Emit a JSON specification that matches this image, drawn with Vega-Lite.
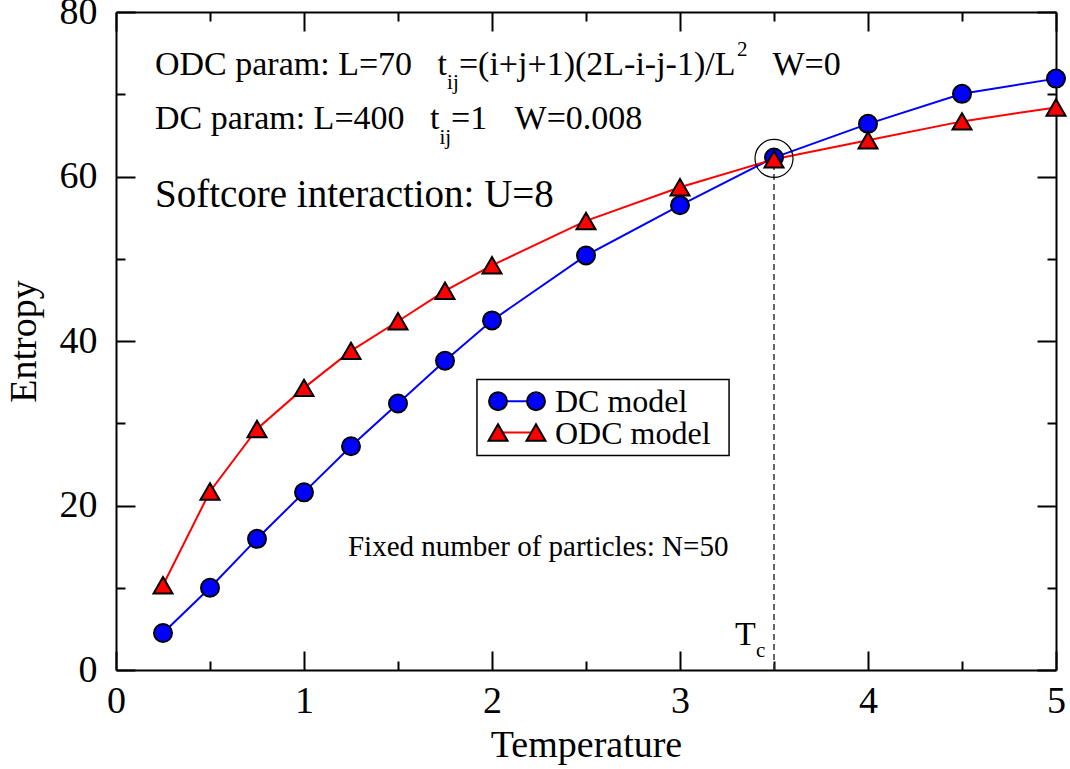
{
  "$schema": "https://vega.github.io/schema/vega-lite/v6.json",
  "width": 940,
  "height": 658,
  "autosize": {"type": "none"},
  "padding": {"left": 116, "top": 12, "right": 14, "bottom": 99},
  "background": "white",
  "config": {
    "view": {"stroke": null},
    "font": "Liberation Serif",
    "axis": {
      "grid": false,
      "labelFont": "Liberation Serif",
      "titleFont": "Liberation Serif",
      "labelColor": "black",
      "titleColor": "black",
      "tickColor": "black",
      "domainColor": "black",
      "tickWidth": 2,
      "domainWidth": 2,
      "titleFontWeight": "normal",
      "labelFontSize": 38,
      "titleFontSize": 38,
      "labelFlush": false,
      "labelOverlap": false,
      "zindex": 1
    },
    "text": {"font": "Liberation Serif", "color": "black"}
  },
  "datasets": {
    "series": [
      {"model": "DC", "T": 0.25, "S": 4.5},
      {"model": "DC", "T": 0.5, "S": 10.0},
      {"model": "DC", "T": 0.75, "S": 15.95},
      {"model": "DC", "T": 1.0, "S": 21.6},
      {"model": "DC", "T": 1.25, "S": 27.2},
      {"model": "DC", "T": 1.5, "S": 32.4},
      {"model": "DC", "T": 1.75, "S": 37.6},
      {"model": "DC", "T": 2.0, "S": 42.5},
      {"model": "DC", "T": 2.5, "S": 50.4},
      {"model": "DC", "T": 3.0, "S": 56.5},
      {"model": "DC", "T": 3.5, "S": 62.3},
      {"model": "DC", "T": 4.0, "S": 66.4},
      {"model": "DC", "T": 4.5, "S": 70.05},
      {"model": "DC", "T": 5.0, "S": 71.9},
      {"model": "ODC", "T": 0.25, "S": 10.3},
      {"model": "ODC", "T": 0.5, "S": 21.7},
      {"model": "ODC", "T": 0.75, "S": 29.3},
      {"model": "ODC", "T": 1.0, "S": 34.3},
      {"model": "ODC", "T": 1.25, "S": 38.8},
      {"model": "ODC", "T": 1.5, "S": 42.4},
      {"model": "ODC", "T": 1.75, "S": 46.1},
      {"model": "ODC", "T": 2.0, "S": 49.2},
      {"model": "ODC", "T": 2.5, "S": 54.6},
      {"model": "ODC", "T": 3.0, "S": 58.7},
      {"model": "ODC", "T": 3.5, "S": 62.1},
      {"model": "ODC", "T": 4.0, "S": 64.4},
      {"model": "ODC", "T": 4.5, "S": 66.7},
      {"model": "ODC", "T": 5.0, "S": 68.4}
    ],
    "critical": [{"T": 3.5, "S": 62.2, "S0": 0}],
    "legendBox": [{"T": 1.92, "T2": 3.261, "S": 35.32, "S2": 26.08}],
    "legendKeys": [
      {"model": "DC", "T": 2.032, "T2": 2.234, "S": 32.68},
      {"model": "ODC", "T": 2.032, "T2": 2.234, "S": 28.88}
    ],
    "legendMarks": [
      {"model": "DC", "T": 2.032, "S": 32.68},
      {"model": "DC", "T": 2.234, "S": 32.68},
      {"model": "ODC", "T": 2.032, "S": 28.88},
      {"model": "ODC", "T": 2.234, "S": 28.88}
    ],
    "legendText": [
      {"T": 2.335, "S": 31.34, "label": "DC model"},
      {"T": 2.335, "S": 27.42, "label": "ODC model"}
    ],
    "params": [
      {"T": 0.2074, "S": 72.28, "label": "ODC param: L=70"},
      {"T": 1.71, "S": 72.28, "label": "t"},
      {"T": 1.824, "S": 72.28, "label": "=(i+j+1)(2L-i-j-1)/L"},
      {"T": 3.492, "S": 72.28, "label": "W=0"},
      {"T": 0.2074, "S": 65.72, "label": "DC param: L=400"},
      {"T": 1.67, "S": 65.72, "label": "t"},
      {"T": 1.782, "S": 65.72, "label": "=1"},
      {"T": 2.12, "S": 65.72, "label": "W=0.008"},
      {"T": 3.2926, "S": 2.98, "label": "T"}
    ],
    "scripts": [
      {"T": 1.761, "S": 70.6, "label": "ij"},
      {"T": 1.7207, "S": 64.0, "label": "ij"},
      {"T": 3.303, "S": 74.6, "label": "2"},
      {"T": 3.404, "S": 1.52, "label": "c"}
    ],
    "headline": [{"T": 0.2074, "S": 56.35, "label": "Softcore interaction: U=8"}],
    "footnote": [{"T": 1.234, "S": 13.8, "label": "Fixed number of particles: N=50"}]
  },
  "resolve": {"axis": {"x": "independent", "y": "independent"}},
  "layer": [
    {
      "data": {"name": "critical"},
      "mark": {"type": "rule", "color": "#333333", "strokeWidth": 1.5, "strokeDash": [6, 4]},
      "encoding": {
        "x": {"field": "T", "type": "quantitative", "scale": {"domain": [0, 5], "nice": false},
          "axis": {"orient": "bottom", "values": [0, 1, 2, 3, 4, 5], "format": "d", "tickSize": -19, "labelPadding": 31, "title": "Temperature", "titlePadding": 6, "domain": true}},
        "y": {"field": "S0", "type": "quantitative", "scale": {"domain": [0, 80], "nice": false},
          "axis": {"orient": "left", "values": [0, 20, 40, 60, 80], "format": "d", "tickSize": -19, "labelPadding": 38, "title": "Entropy", "titlePadding": 16, "domain": true}},
        "y2": {"field": "S"}
      }
    },
    {
      "data": {"name": "series"},
      "transform": [{"filter": "datum.model === 'DC'"}],
      "mark": {"type": "line", "color": "#0000ff", "strokeWidth": 2},
      "encoding": {
        "x": {"field": "T", "type": "quantitative", "scale": {"domain": [0, 5], "nice": false},
          "axis": {"orient": "top", "values": [0, 1, 2, 3, 4, 5], "tickSize": -19, "labels": false, "title": null, "domain": true}},
        "y": {"field": "S", "type": "quantitative", "scale": {"domain": [0, 80], "nice": false},
          "axis": {"orient": "right", "values": [0, 20, 40, 60, 80], "tickSize": -19, "labels": false, "title": null, "domain": true}}
      }
    },
    {
      "data": {"name": "series"},
      "transform": [{"filter": "datum.model === 'ODC'"}],
      "mark": {"type": "line", "color": "#ff0000", "strokeWidth": 2},
      "encoding": {
        "x": {"field": "T", "type": "quantitative", "scale": {"domain": [0, 5], "nice": false},
          "axis": {"orient": "top", "values": [0.5, 1.5, 2.5, 3.5, 4.5], "tickSize": -9, "labels": false, "title": null, "domain": false}},
        "y": {"field": "S", "type": "quantitative", "scale": {"domain": [0, 80], "nice": false},
          "axis": {"orient": "right", "values": [10, 30, 50, 70], "tickSize": -9, "labels": false, "title": null, "domain": false}}
      }
    },
    {
      "data": {"name": "series"},
      "transform": [{"filter": "datum.model === 'DC'"}],
      "mark": {"type": "point", "shape": "circle", "filled": true, "fill": "#0000ff", "stroke": "black", "strokeWidth": 2, "size": 324, "opacity": 1},
      "encoding": {
        "x": {"field": "T", "type": "quantitative", "scale": {"domain": [0, 5], "nice": false}, "axis": null},
        "y": {"field": "S", "type": "quantitative", "scale": {"domain": [0, 80], "nice": false}, "axis": null}
      }
    },
    {
      "data": {"name": "series"},
      "transform": [{"filter": "datum.model === 'ODC'"}],
      "mark": {"type": "point", "shape": "triangle-up", "filled": true, "fill": "#ff0000", "stroke": "black", "strokeWidth": 2, "size": 360, "opacity": 1},
      "encoding": {
        "x": {"field": "T", "type": "quantitative", "scale": {"domain": [0, 5], "nice": false}, "axis": null},
        "y": {"field": "S", "type": "quantitative", "scale": {"domain": [0, 80], "nice": false}, "axis": null}
      }
    },
    {
      "data": {"name": "critical"},
      "mark": {"type": "point", "shape": "circle", "filled": false, "stroke": "black", "strokeWidth": 1.2, "size": 1444, "opacity": 1},
      "encoding": {
        "x": {"field": "T", "type": "quantitative", "scale": {"domain": [0, 5], "nice": false},
          "axis": {"orient": "bottom", "values": [0.5, 1.5, 2.5, 3.5, 4.5], "tickSize": -9, "labels": false, "title": null, "domain": false}},
        "y": {"field": "S", "type": "quantitative", "scale": {"domain": [0, 80], "nice": false},
          "axis": {"orient": "left", "values": [10, 30, 50, 70], "tickSize": -9, "labels": false, "title": null, "domain": false}}
      }
    },
    {
      "data": {"name": "legendBox"},
      "mark": {"type": "rect", "fill": "white", "stroke": "black", "strokeWidth": 1.5},
      "encoding": {
        "x": {"field": "T", "type": "quantitative", "scale": {"domain": [0, 5], "nice": false}, "axis": null},
        "x2": {"field": "T2"},
        "y": {"field": "S", "type": "quantitative", "scale": {"domain": [0, 80], "nice": false}, "axis": null},
        "y2": {"field": "S2"}
      }
    },
    {
      "data": {"name": "legendKeys"},
      "mark": {"type": "rule", "strokeWidth": 2},
      "encoding": {
        "x": {"field": "T", "type": "quantitative", "scale": {"domain": [0, 5], "nice": false}, "axis": null},
        "x2": {"field": "T2"},
        "y": {"field": "S", "type": "quantitative", "scale": {"domain": [0, 80], "nice": false}, "axis": null},
        "color": {"field": "model", "type": "nominal", "scale": {"domain": ["DC", "ODC"], "range": ["#0000ff", "#ff0000"]}, "legend": null}
      }
    },
    {
      "data": {"name": "legendMarks"},
      "transform": [{"filter": "datum.model === 'DC'"}],
      "mark": {"type": "point", "shape": "circle", "filled": true, "fill": "#0000ff", "stroke": "black", "strokeWidth": 2, "size": 324, "opacity": 1},
      "encoding": {
        "x": {"field": "T", "type": "quantitative", "scale": {"domain": [0, 5], "nice": false}, "axis": null},
        "y": {"field": "S", "type": "quantitative", "scale": {"domain": [0, 80], "nice": false}, "axis": null}
      }
    },
    {
      "data": {"name": "legendMarks"},
      "transform": [{"filter": "datum.model === 'ODC'"}],
      "mark": {"type": "point", "shape": "triangle-up", "filled": true, "fill": "#ff0000", "stroke": "black", "strokeWidth": 2, "size": 360, "opacity": 1},
      "encoding": {
        "x": {"field": "T", "type": "quantitative", "scale": {"domain": [0, 5], "nice": false}, "axis": null},
        "y": {"field": "S", "type": "quantitative", "scale": {"domain": [0, 80], "nice": false}, "axis": null}
      }
    },
    {
      "data": {"name": "legendText"},
      "mark": {"type": "text", "align": "left", "baseline": "alphabetic", "fontSize": 32},
      "encoding": {
        "x": {"field": "T", "type": "quantitative", "scale": {"domain": [0, 5], "nice": false}, "axis": null},
        "y": {"field": "S", "type": "quantitative", "scale": {"domain": [0, 80], "nice": false}, "axis": null},
        "text": {"field": "label"}
      }
    },
    {
      "data": {"name": "params"},
      "mark": {"type": "text", "align": "left", "baseline": "alphabetic", "fontSize": 34},
      "encoding": {
        "x": {"field": "T", "type": "quantitative", "scale": {"domain": [0, 5], "nice": false}, "axis": null},
        "y": {"field": "S", "type": "quantitative", "scale": {"domain": [0, 80], "nice": false}, "axis": null},
        "text": {"field": "label"}
      }
    },
    {
      "data": {"name": "scripts"},
      "mark": {"type": "text", "align": "left", "baseline": "alphabetic", "fontSize": 21},
      "encoding": {
        "x": {"field": "T", "type": "quantitative", "scale": {"domain": [0, 5], "nice": false}, "axis": null},
        "y": {"field": "S", "type": "quantitative", "scale": {"domain": [0, 80], "nice": false}, "axis": null},
        "text": {"field": "label"}
      }
    },
    {
      "data": {"name": "headline"},
      "mark": {"type": "text", "align": "left", "baseline": "alphabetic", "fontSize": 39},
      "encoding": {
        "x": {"field": "T", "type": "quantitative", "scale": {"domain": [0, 5], "nice": false}, "axis": null},
        "y": {"field": "S", "type": "quantitative", "scale": {"domain": [0, 80], "nice": false}, "axis": null},
        "text": {"field": "label"}
      }
    },
    {
      "data": {"name": "footnote"},
      "mark": {"type": "text", "align": "left", "baseline": "alphabetic", "fontSize": 29},
      "encoding": {
        "x": {"field": "T", "type": "quantitative", "scale": {"domain": [0, 5], "nice": false}, "axis": null},
        "y": {"field": "S", "type": "quantitative", "scale": {"domain": [0, 80], "nice": false}, "axis": null},
        "text": {"field": "label"}
      }
    }
  ]
}
